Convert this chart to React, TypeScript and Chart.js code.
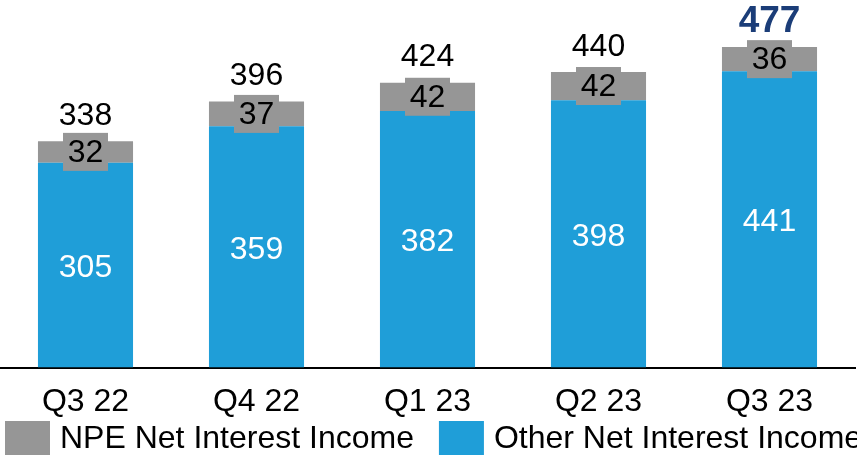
import React, { useEffect, useRef } from "react";
import { Chart, registerables } from "chart.js";

Chart.register(...registerables);

const categories = ["Q3 22", "Q4 22", "Q1 23", "Q2 23", "Q3 23"];
const otherNII = [305, 359, 382, 398, 441];
const npeNII = [32, 37, 42, 42, 36];
const totals = [338, 396, 424, 440, 477];
const seriesNames = ["Other Net Interest Income", "NPE Net Interest Income"];

const FONT = '"Liberation Sans", Arial, sans-serif';
const BLUE = "#1F9ED8";
const GREY = "#969696";
const NAVY = "#1B3D78";

const labelPlugin = {
  id: "valueLabels",
  afterDatasetsDraw(chart: any) {
    const ctx = chart.ctx;
    const blueMeta = chart.getDatasetMeta(0);
    const greyMeta = chart.getDatasetMeta(1);
    ctx.save();
    ctx.textAlign = "center";
    ctx.textBaseline = "middle";
    blueMeta.data.forEach((bar: any, i: number) => {
      const { x, y, base } = bar.getProps(["x", "y", "base"], true);
      ctx.font = "32px " + FONT;
      ctx.fillStyle = "#ffffff";
      ctx.fillText(String(otherNII[i]), x, (y + base) / 2 + 3);
    });
    greyMeta.data.forEach((bar: any, i: number) => {
      const { x, y, base } = bar.getProps(["x", "y", "base"], true);
      const cy = (y + base) / 2;
      ctx.fillStyle = GREY;
      ctx.fillRect(x - 22.5, cy - 19, 45, 38);
      ctx.font = "32px " + FONT;
      ctx.fillStyle = "#000000";
      ctx.fillText(String(npeNII[i]), x, cy + 1);
      const last = i === totals.length - 1;
      ctx.font = (last ? "bold 37px " : "32px ") + FONT;
      ctx.fillStyle = last ? NAVY : "#000000";
      ctx.fillText(String(totals[i]), x, y - 25);
    });
    ctx.restore();
  },
};

const legendPlugin = {
  id: "customLegend",
  afterDraw(chart: any) {
    const ctx = chart.ctx;
    ctx.save();
    ctx.font = "32px " + FONT;
    ctx.textBaseline = "middle";
    ctx.textAlign = "left";
    const order = [1, 0];
    let x = 5;
    const boxTop = 421;
    order.forEach((di) => {
      const ds = chart.data.datasets[di];
      ctx.fillStyle = ds.backgroundColor;
      ctx.fillRect(x, boxTop, 45, 34);
      ctx.fillStyle = "#000000";
      const tx = x + 55;
      ctx.fillText(ds.label, tx, boxTop + 18);
      x = tx + ctx.measureText(ds.label).width + 25;
    });
    ctx.restore();
  },
};

export default function App() {
  const ref = useRef<HTMLCanvasElement | null>(null);
  useEffect(() => {
    document.body.style.margin = "0";
    if (!ref.current) return;
    const chart = new Chart(ref.current, {
      type: "bar",
      data: {
        labels: categories,
        datasets: [
          { label: seriesNames[0], data: otherNII, backgroundColor: BLUE, barPercentage: 0.556, categoryPercentage: 1 },
          { label: seriesNames[1], data: npeNII, backgroundColor: GREY, barPercentage: 0.556, categoryPercentage: 1 },
        ],
      },
      options: {
        responsive: true,
        maintainAspectRatio: false,
        animation: false,
        layout: { padding: { top: 0, left: 0, right: 2, bottom: 22 } },
        plugins: { legend: { display: false }, tooltip: { enabled: false } },
        scales: {
          x: {
            stacked: true,
            grid: { display: false, drawTicks: false },
            border: { display: true, color: "#000000", width: 2 },
            ticks: { color: "#000000", font: { size: 32, family: FONT }, padding: 15 },
          },
          y: { stacked: true, display: false, min: 0, max: 547 },
        },
      },
      plugins: [labelPlugin, legendPlugin],
    });
    return () => chart.destroy();
  }, []);
  return (
    <div style={{ width: 857, height: 458, position: "relative" }}>
      <canvas ref={ref} />
    </div>
  );
}
